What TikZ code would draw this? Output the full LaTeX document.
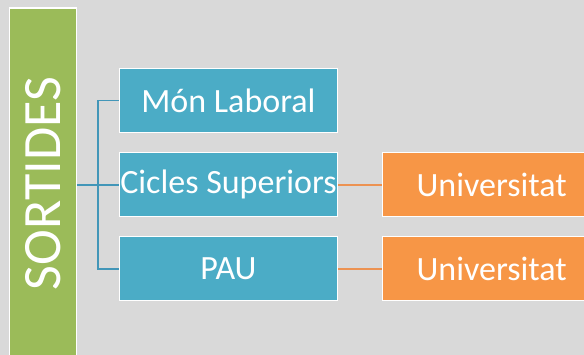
\documentclass[tikz,border=0pt]{standalone}
\usepackage{fontspec}
\setmainfont{Carlito}
\usetikzlibrary{positioning}

\definecolor{fons}{RGB}{217,217,217}
\definecolor{verd}{RGB}{155,187,89}
\definecolor{blau}{RGB}{75,172,198}
\definecolor{taronja}{RGB}{247,150,70}
\definecolor{liniablau}{RGB}{66,150,184}
\definecolor{liniataronja}{RGB}{236,146,82}

\tikzset{
  caixa/.style={draw=white, line width=1.2pt, minimum width=218pt, minimum height=64pt,
    inner sep=0pt, text=white, font=\fontsize{34}{36}\selectfont},
  blava/.style={caixa, fill=blau},
  taronjada/.style={caixa, fill=taronja},
  enllac/.style={line width=1.8pt},
}

\begin{document}
\begin{tikzpicture}[x=1pt, y=1pt]
    % fons i retall
    \clip (0, 0) rectangle (584, 355);
    \fill[fons] (0, 0) rectangle (584, 355);

    % barra verda amb el títol
    \node (sortides) [rotate=90, draw=white, line width=1.2pt, fill=verd, minimum width=351pt,
        minimum height=67pt, inner sep=0pt, text=white, font=\fontsize{54}{56}\selectfont]
        at (43, 171.5) {SORTIDES};

    % caixes blaves
    \node (laboral) [blava] at (228.5, 254.5) {Món Laboral};
    \node (cicles) [blava, below=19pt of laboral] {Cicles Superiors};
    \node (pau) [blava, below=19pt of cicles] {PAU};

    % caixes taronja
    \node (univ1) [taronjada, right=44pt of cicles] {Universitat};
    \node (univ2) [taronjada, right=44pt of pau] {Universitat};

    % connectors
    \draw[liniablau, enllac] (sortides.south |- cicles.west) -- (cicles.west);
    \draw[liniablau, enllac] (laboral.west) -- ++(-21, 0) |- (pau.west);
    \draw[liniataronja, enllac] (cicles.east) -- (univ1.west);
    \draw[liniataronja, enllac] (pau.east) -- (univ2.west);
\end{tikzpicture}
\end{document}
